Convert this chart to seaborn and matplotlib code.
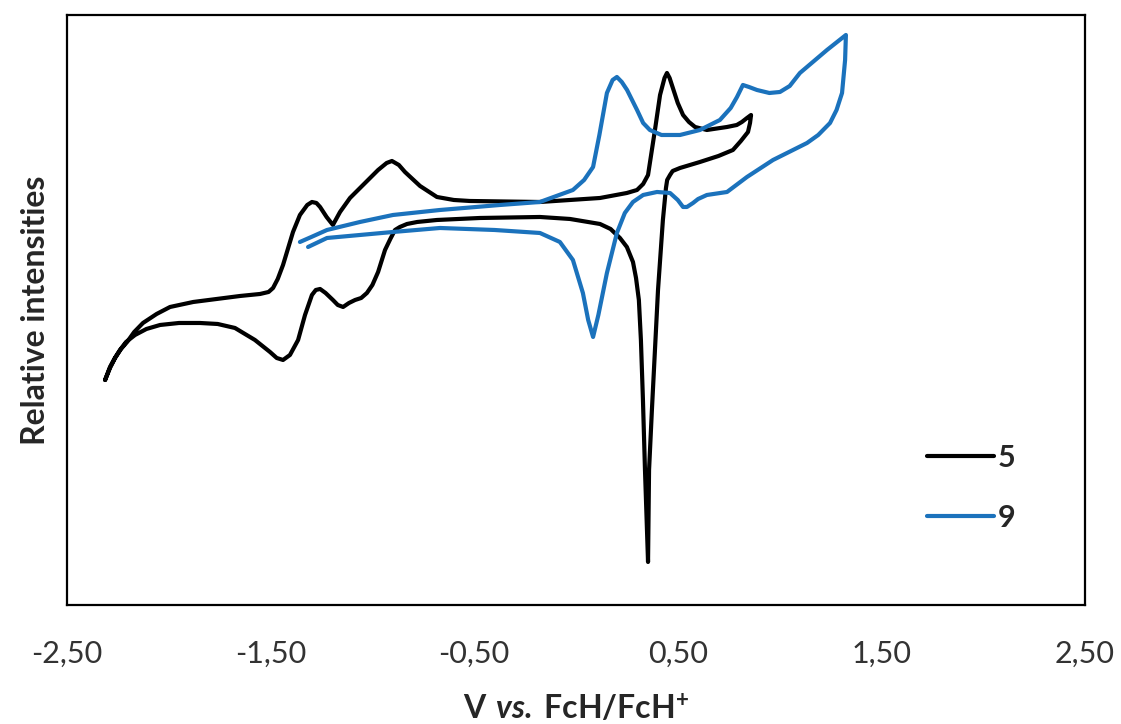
import matplotlib
matplotlib.use("Agg")
import matplotlib.pyplot as plt
import numpy as np
import pandas as pd
import seaborn as sns

# ================================================================ data (V vs FcH/FcH+, relative intensity)
v_5 = [-2.313, -2.289, -2.264, -2.235, -2.205, -2.170, -2.127, -2.060, -1.994, -1.880, -1.763,
       -1.650, -1.552, -1.510, -1.488, -1.465, -1.439, -1.390,
       -1.356, -1.320, -1.297, -1.275, -1.257, -1.225, -1.194, -1.159, -1.110, -1.051, -0.972,
       -0.930, -0.904, -0.870, -0.840, -0.766,
       -0.683, -0.600, -0.521, -0.177, 0.118, 0.250, 0.300, 0.330, 0.354, 0.388, 0.413, 0.435,
       0.447, 0.460, 0.476, 0.500, 0.526, 0.555, 0.585,
       0.643, 0.742, 0.790, 0.815, 0.840, 0.860,
       0.855, 0.845, 0.810, 0.771, 0.700, 0.609, 0.511, 0.475, 0.462, 0.448, 0.442, 0.427,
       0.403, 0.388, 0.373, 0.359, 0.354,
       0.339, 0.329, 0.319, 0.309, 0.295, 0.280, 0.250, 0.216, 0.170, 0.118, -0.029, -0.177,
       -0.472, -0.683, -0.780,
       -0.830, -0.865, -0.889, -0.912, -0.938, -0.972, -1.000, -1.027, -1.055, -1.085, -1.115,
       -1.144, -1.170, -1.194, -1.230, -1.257, -1.278, -1.297, -1.331,
       -1.365, -1.405, -1.439, -1.470, -1.503, -1.577, -1.675, -1.760, -1.847, -1.950, -2.043,
       -2.110, -2.166, -2.210, -2.240, -2.265, -2.289, -2.313]
i_5 = [225, 237, 247, 256, 263, 273, 282, 291, 298, 303, 306,
       309, 311, 313, 317, 326, 340, 373,
       390, 400, 403, 402, 398, 388, 380, 393, 407, 419, 435,
       442, 444, 440, 433, 419,
       408, 405, 404, 403, 407, 412, 415, 421, 430, 475, 510, 527,
       532, 527, 517, 502, 490, 483, 478,
       475, 478, 480, 483, 487, 490,
       482, 473, 464, 455, 449, 443, 437, 434, 430, 425, 417, 385,
       315, 255, 195, 135, 43,
       135, 205, 265, 305, 327, 343, 358, 367, 376, 381, 386, 388,
       387, 385, 383,
       381, 378, 375, 366, 355, 333, 320, 312, 307, 305, 302,
       298, 300, 305, 312, 316, 315, 310, 290,
       265, 250, 245, 247, 253, 265, 277, 281, 282, 282, 280,
       276, 270, 263, 255, 247, 238, 225]

v_9 = [-1.356, -1.300, -1.223, -1.061, -0.899, -0.668, -0.373, -0.177, -0.015, 0.040, 0.084,
       0.115, 0.152, 0.180, 0.201, 0.225,
       0.251, 0.300, 0.330, 0.363, 0.420, 0.511, 0.609, 0.707, 0.760, 0.791, 0.820, 0.850, 0.889,
       0.950, 1.002, 1.050, 1.100, 1.233, 1.326,
       1.322, 1.307, 1.280, 1.248, 1.190, 1.135, 0.968, 0.840, 0.742, 0.643, 0.600, 0.575, 0.545,
       0.526, 0.500, 0.462, 0.398, 0.330, 0.280, 0.240,
       0.201, 0.152, 0.110, 0.084, 0.060, 0.034, -0.015, -0.079, -0.177, -0.400, -0.668, -0.899,
       -1.061, -1.223, -1.316]
i_9 = [363, 368, 375, 383, 390, 395, 400, 403, 415, 425, 438,
       470, 512, 525, 528, 523,
       515, 495, 482, 475, 470, 470, 475, 485, 497, 508, 520, 518, 515,
       512, 513, 519, 532, 555, 570,
       545, 512, 495, 482, 470, 462, 445, 428, 413, 410, 406, 402, 398,
       398, 405, 412, 413, 410, 403, 392,
       372, 332, 290, 268, 285, 312, 345, 363, 372, 375, 377, 373,
       370, 367, 358]

x_ticks = [-2.5, -1.5, -0.5, 0.5, 1.5, 2.5]
tick_labels = ["-2,50", "-1,50", "-0,50", "0,50", "1,50", "2,50"]

df_5 = pd.DataFrame({"V": v_5, "I": i_5})
df_9 = pd.DataFrame({"V": v_9, "I": i_9})

# ================================================================ plot
sns.set_style("white")
plt.rcParams["font.family"] = ["Lato", "DejaVu Sans"]
plt.rcParams["mathtext.fontset"] = "custom"
plt.rcParams["mathtext.rm"] = "Lato"
plt.rcParams["mathtext.bf"] = "Lato:bold"
plt.rcParams["mathtext.bfit"] = "Lato:italic:bold"

fig = plt.figure(figsize=(11.21, 7.24), dpi=100)
ax = fig.add_axes([0.0598, 0.1644, 0.908, 0.8149])

sns.lineplot(data=df_5, x="V", y="I", sort=False, estimator=None, color="black",
             linewidth=3.0, label="5", ax=ax, solid_joinstyle="round", solid_capstyle="round")
sns.lineplot(data=df_9, x="V", y="I", sort=False, estimator=None, color="#1b72bc",
             linewidth=3.0, label="9", ax=ax, solid_joinstyle="round", solid_capstyle="round")

ax.set_xlim(-2.5, 2.5)
ax.set_ylim(0, 590)
ax.set_xticks(x_ticks)
ax.set_xticklabels(tick_labels, fontsize=22, color="#333333")
ax.set_yticks([])
ax.tick_params(axis="x", length=0, pad=25)
for s in ax.spines.values():
    s.set_color("black")
    s.set_linewidth(1.6)

ax.set_xlabel(r"$\mathbf{V}\ \mathbfit{vs.}\,\mathbf{FcH/FcH^{+}}$", fontsize=23, labelpad=18)
ax.set_ylabel("Relative intensities", fontsize=23, fontweight="bold", labelpad=12)

leg = ax.legend(loc="upper left", bbox_to_anchor=(0.818, 0.32), frameon=False,
                handlelength=2.2, handletextpad=0.12, labelspacing=1.05,
                prop={"size": 22, "weight": "bold"})

plt.savefig("out.png", dpi=100)
